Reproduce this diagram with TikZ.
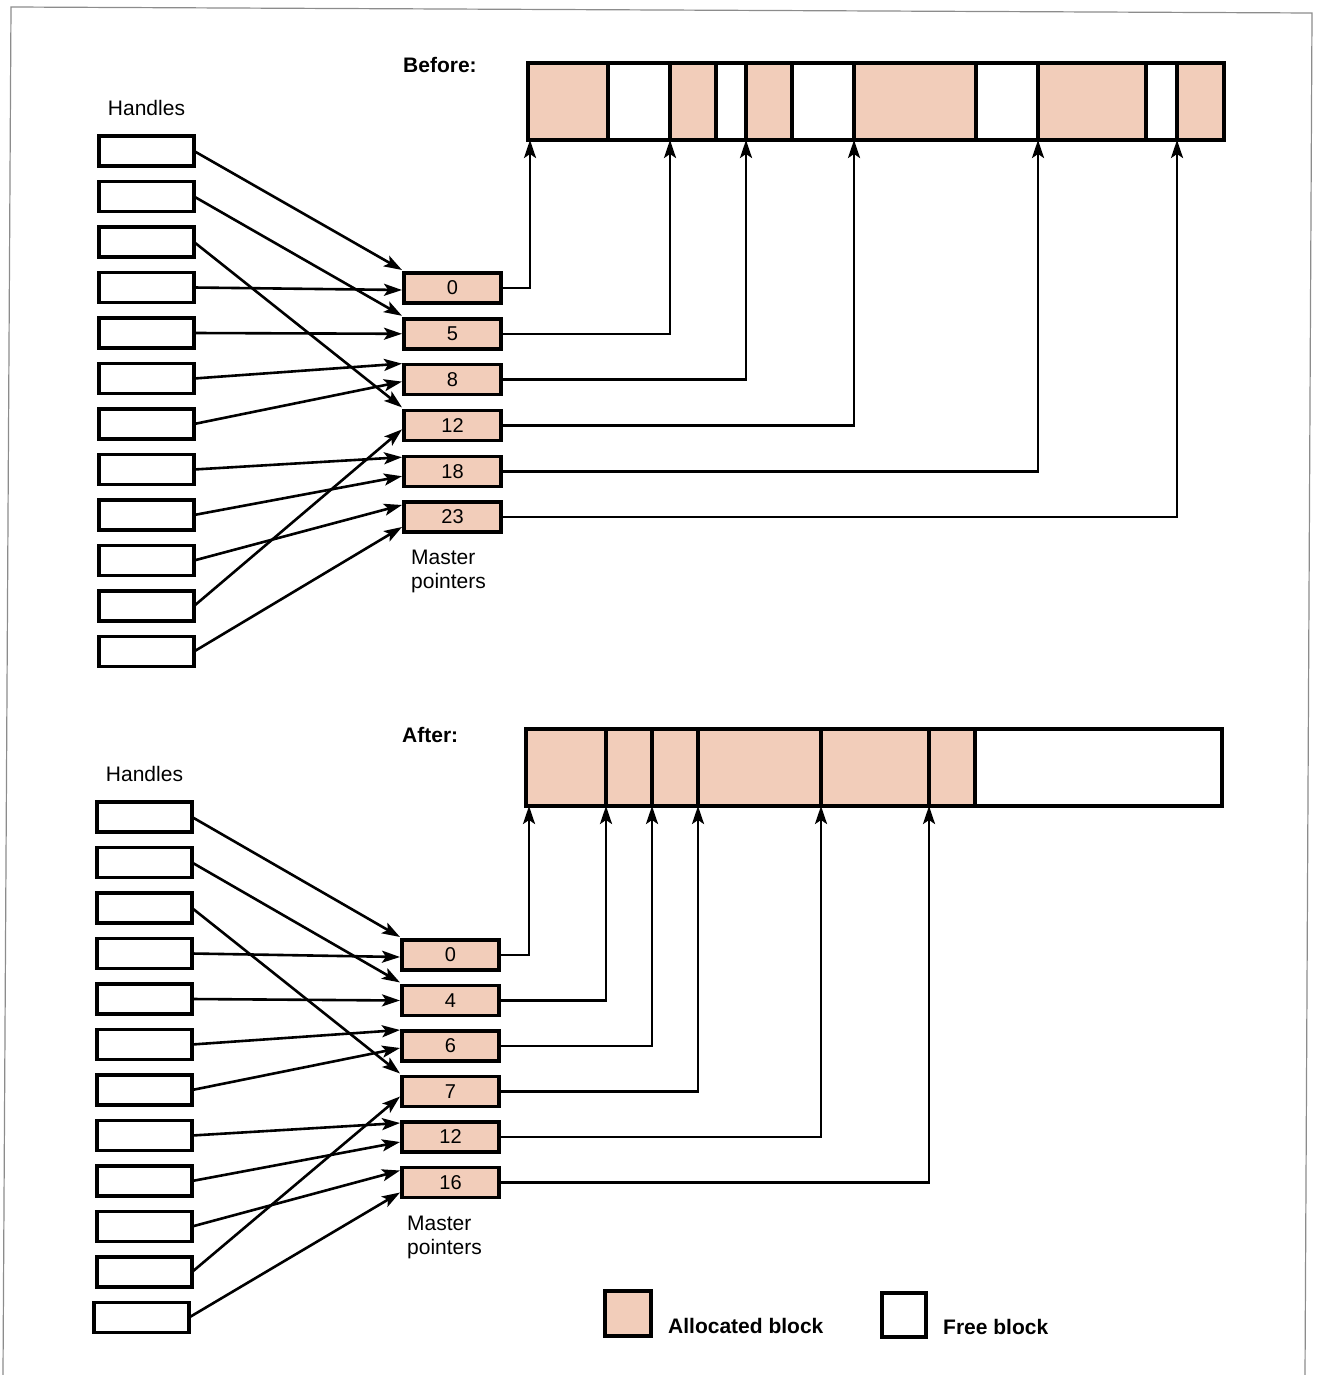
\documentclass[tikz,border=0pt]{standalone}
\usepackage{fontspec}
\setmainfont{Liberation Sans}
\usetikzlibrary{arrows.meta,positioning,calc}
\definecolor{peach}{RGB}{242,205,186}

\begin{document}
\begin{tikzpicture}[x=1pt,y=-1pt,node distance=15.5pt,
  handle/.style={draw,line width=3.4pt,minimum width=95pt,minimum height=30pt,inner sep=0pt,outer sep=0pt},
  master/.style={draw,line width=3.4pt,fill=peach,minimum width=97pt,minimum height=30pt,inner sep=0pt,outer sep=0pt,font=\fontsize{20}{22}\selectfont},
  alloc/.style={draw,line width=3.4pt,fill=peach,minimum height=77pt,inner sep=0pt,outer sep=0pt},
  free/.style={draw,line width=3.4pt,fill=white,minimum height=77pt,inner sep=0pt,outer sep=0pt},
  lbl/.style={inner sep=0pt,font=\fontsize{21}{24}\selectfont},
  head/.style={inner sep=0pt,font=\fontsize{21}{24}\selectfont\bfseries},
  arr/.style={-{Stealth[length=18pt,width=12pt,inset=4pt]},line width=2.6pt},
  frame/.style={draw=black!45,line width=1.2pt}]
\useasboundingbox (0,0) rectangle (1318,1375);
\draw[frame] (3,1375) -- (11,7) -- (1312,13) -- (1305,1375);
% before
\node[head,anchor=base west] (before) at (403,72.5) {Before:};
\node[alloc,minimum width=80pt] (bblk1) at (568,101.5) {};
\node[free,minimum width=62pt,right=0pt of bblk1] (bblk2) {};
\node[alloc,minimum width=46pt,right=0pt of bblk2] (bblk3) {};
\node[free,minimum width=30pt,right=0pt of bblk3] (bblk4) {};
\node[alloc,minimum width=46pt,right=0pt of bblk4] (bblk5) {};
\node[free,minimum width=62pt,right=0pt of bblk5] (bblk6) {};
\node[alloc,minimum width=122pt,right=0pt of bblk6] (bblk7) {};
\node[free,minimum width=62pt,right=0pt of bblk7] (bblk8) {};
\node[alloc,minimum width=108pt,right=0pt of bblk8] (bblk9) {};
\node[free,minimum width=31pt,right=0pt of bblk9] (bblk10) {};
\node[alloc,minimum width=47pt,right=0pt of bblk10] (bblk11) {};
\node[handle] (bh1) at (146.5,151) {};
\node[handle,below=of bh1] (bh2) {};
\node[handle,below=of bh2] (bh3) {};
\node[handle,below=of bh3] (bh4) {};
\node[handle,below=of bh4] (bh5) {};
\node[handle,below=of bh5] (bh6) {};
\node[handle,below=of bh6] (bh7) {};
\node[handle,below=of bh7] (bh8) {};
\node[handle,below=of bh8] (bh9) {};
\node[handle,below=of bh9] (bh10) {};
\node[handle,below=of bh10] (bh11) {};
\node[handle,below=of bh11] (bh12) {};
\node[lbl,above=20pt of bh1] (bhandles) {Handles};
\node[master] (bm0) at (452.5,288) {0};
\node[master,below=15.8pt of bm0] (bm5) {5};
\node[master,below=15.8pt of bm5] (bm8) {8};
\node[master,below=15.8pt of bm8] (bm12) {12};
\node[master,below=15.8pt of bm12] (bm18) {18};
\node[master,below=15.8pt of bm18] (bm23) {23};
\node[lbl,align=left,below right=17.5pt and 7pt of bm23.south west] (bmaster) {Master\\pointers};
\draw[arr] (bh1.east) -- ($(bm0.west)+(-2,-18)$);
\draw[arr] (bh2.east) -- ($(bm5.west)+(-2,-18)$);
\draw[arr] (bh3.east) -- ($(bm12.west)+(-2,-18)$);
\draw[arr] (bh4.east) -- ($(bm0.west)+(-2,2)$);
\draw[arr] (bh5.east) -- ($(bm5.west)+(-2,0)$);
\draw[arr] (bh6.east) -- ($(bm8.west)+(-2,-16)$);
\draw[arr] (bh7.east) -- ($(bm8.west)+(-2,2)$);
\draw[arr] (bh8.east) -- ($(bm18.west)+(-2,-14)$);
\draw[arr] (bh9.east) -- ($(bm18.west)+(-2,5)$);
\draw[arr] (bh10.east) -- ($(bm23.west)+(-2,-12)$);
\draw[arr] (bh11.east) -- ($(bm12.west)+(-2,4)$);
\draw[arr] (bh12.east) -- ($(bm23.west)+(-2,10)$);
\draw[arr] (bm0.east) -| ([xshift=2pt]bblk1.south west);
\draw[arr] (bm5.east) -| (bblk3.south west);
\draw[arr] (bm8.east) -| (bblk5.south west);
\draw[arr] (bm12.east) -| (bblk7.south west);
\draw[arr] (bm18.east) -| (bblk9.south west);
\draw[arr] (bm23.east) -| (bblk11.south west);
% after
\node[head,anchor=base west] (after) at (402,742.5) {After:};
\node[alloc,minimum width=80pt] (ablk1) at (566,767.5) {};
\node[alloc,minimum width=46pt,right=0pt of ablk1] (ablk2) {};
\node[alloc,minimum width=46pt,right=0pt of ablk2] (ablk3) {};
\node[alloc,minimum width=123pt,right=0pt of ablk3] (ablk4) {};
\node[alloc,minimum width=108pt,right=0pt of ablk4] (ablk5) {};
\node[alloc,minimum width=46pt,right=0pt of ablk5] (ablk6) {};
\node[free,minimum width=247pt,right=0pt of ablk6] (ablk7) {};
\node[handle] (ah1) at (144.5,817) {};
\node[handle,below=of ah1] (ah2) {};
\node[handle,below=of ah2] (ah3) {};
\node[handle,below=of ah3] (ah4) {};
\node[handle,below=of ah4] (ah5) {};
\node[handle,below=of ah5] (ah6) {};
\node[handle,below=of ah6] (ah7) {};
\node[handle,below=of ah7] (ah8) {};
\node[handle,below=of ah8] (ah9) {};
\node[handle,below=of ah9] (ah10) {};
\node[handle,below=of ah10] (ah11) {};
\node[handle,below=of ah11,xshift=-3pt] (ah12) {};
\node[lbl,above=20pt of ah1] (ahandles) {Handles};
\node[master] (am0) at (450.5,955) {0};
\node[master,below=of am0] (am4) {4};
\node[master,below=of am4] (am6) {6};
\node[master,below=of am6] (am7) {7};
\node[master,below=of am7] (am12) {12};
\node[master,below=of am12] (am16) {16};
\node[lbl,align=left,below right=18pt and 5pt of am16.south west] (amaster) {Master\\pointers};
\draw[arr] (ah1.east) -- ($(am0.west)+(-2,-18)$);
\draw[arr] (ah2.east) -- ($(am4.west)+(-2,-18)$);
\draw[arr] (ah3.east) -- ($(am7.west)+(-2,-18)$);
\draw[arr] (ah4.east) -- ($(am0.west)+(-2,2)$);
\draw[arr] (ah5.east) -- ($(am4.west)+(-2,0)$);
\draw[arr] (ah6.east) -- ($(am6.west)+(-2,-16)$);
\draw[arr] (ah7.east) -- ($(am6.west)+(-2,2)$);
\draw[arr] (ah8.east) -- ($(am12.west)+(-2,-14)$);
\draw[arr] (ah9.east) -- ($(am12.west)+(-2,5)$);
\draw[arr] (ah10.east) -- ($(am16.west)+(-2,-12)$);
\draw[arr] (ah11.east) -- ($(am7.west)+(-2,5)$);
\draw[arr] (ah12.east) -- ($(am16.west)+(-2,10)$);
\draw[arr] (am0.east) -| ([xshift=3pt]ablk1.south west);
\draw[arr] (am4.east) -| (ablk2.south west);
\draw[arr] (am6.east) -| (ablk3.south west);
\draw[arr] (am7.east) -| (ablk4.south west);
\draw[arr] (am12.east) -| (ablk5.south west);
\draw[arr] (am16.east) -| (ablk6.south west);
% legend
\node[alloc,minimum width=46pt,minimum height=45pt] (legalloc) at (628,1313.5) {};
\node[head,anchor=base west] (legalloctext) at ([xshift=17pt,yshift=2.5pt]legalloc.south east) {Allocated block};
\node[free,minimum width=44pt,minimum height=44pt] (legfree) at (904,1315) {};
\node[head,anchor=base west] (legfreetext) at ([xshift=17pt,yshift=2.5pt]legfree.south east) {Free block};
\end{tikzpicture}
\end{document}
